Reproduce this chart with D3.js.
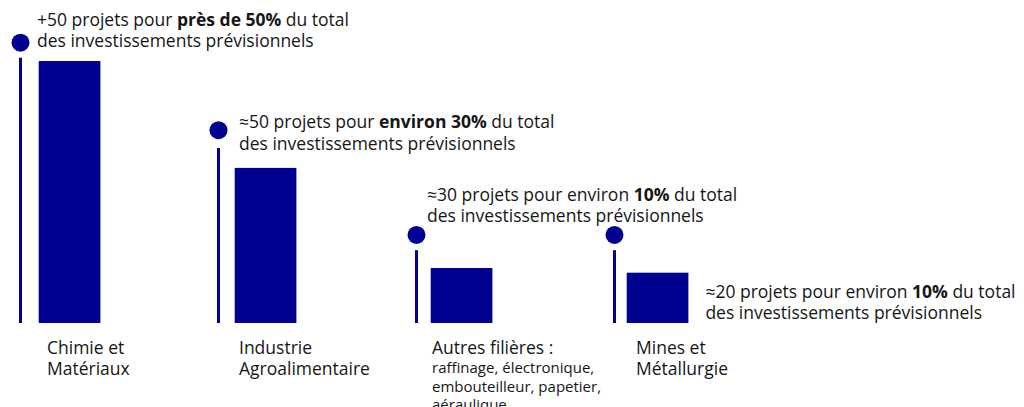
<!DOCTYPE html>
<html><head><meta charset="utf-8">
<script src="https://cdn.jsdelivr.net/npm/d3@7"></script>
<style>body{margin:0;background:#fff} svg{display:block}</style>
</head><body><svg id="c" width="1024" height="407"></svg>
<script>
// ---- data ----
const categories = ["Chimie et Matériaux", "Industrie Agroalimentaire", "Autres filières", "Mines et Métallurgie"];
const labelLines = [["Chimie et", "Matériaux"], ["Industrie", "Agroalimentaire"], ["Autres filières :"], ["Mines et", "Métallurgie"]];
const subLabelLines = [[], [], ["raffinage, électronique,", "embouteilleur, papetier,", "aéraulique"], []];
const shareValues = [50, 29.6, 10.5, 9.6];      // bar heights (share of total, %)
const pinValues = [50.6, 33.4, 13.9, 13.9];     // top of the pin line
const dotValues = [53.5, 36.8, 16.8, 16.8];     // pin head
const projectCounts = ["+50", "≈50", "≈30", "≈20"];
const shareQualifiers = ["près de", "environ", "environ", "environ"];
const sharePct = ["50%", "30%", "10%", "10%"];
const qualifierBold = [true, true, false, false];

// ---- layout ----
const W = 1024, H = 407;
const baseY = 323, topY = 61;
const blue = "#000091", ink = "#161616";
const font = "'Open Sans', 'Noto Sans', sans-serif";
const annFS = 17.5, labFS = 17.5, subFS = 15;
const annLayout = [
  {ref: "pin", dx: 16.5, dy: -17},
  {ref: "pin", dx: 20.5, dy: -2},
  {ref: "pin", dx: 10.5, dy: -34},
  {ref: "bar", dx: 17, dy: 25}
];
const labelDx = [26.5, 20.5, 15.5, 21.5];

const svg = d3.select("#c");
const xPin = d3.scalePoint().domain(categories).range([20.5, 614.5]);
const xBar = d3.scalePoint().domain(categories).range([38.7, 626.7]);
const y = d3.scaleLinear().domain([0, 50]).range([baseY, topY]);
const barW = 61.7;

const g = svg.append("g");
const idx = categories.map((c, i) => i);

// pins
g.selectAll("line.pin").data(idx).join("line").attr("class", "pin")
  .attr("x1", i => xPin(categories[i])).attr("x2", i => xPin(categories[i]))
  .attr("y1", i => y(pinValues[i])).attr("y2", y(0))
  .attr("stroke", blue).attr("stroke-width", 3);
g.selectAll("circle.dot").data(idx).join("circle").attr("class", "dot")
  .attr("cx", i => xPin(categories[i])).attr("cy", i => y(dotValues[i]))
  .attr("r", 9).attr("fill", blue);

// bars
g.selectAll("rect.bar").data(idx).join("rect").attr("class", "bar")
  .attr("x", i => xBar(categories[i]))
  .attr("y", i => y(shareValues[i]))
  .attr("width", barW)
  .attr("height", i => y(0) - y(shareValues[i]))
  .attr("fill", blue);

// annotations
idx.forEach(i => {
  const L = annLayout[i];
  let ax, ay;
  if (L.ref === "pin") { ax = xPin(categories[i]) + L.dx; ay = y(dotValues[i]) + L.dy; }
  else { ax = xBar(categories[i]) + barW + L.dx; ay = y(shareValues[i]) + L.dy; }
  const t = g.append("text").attr("x", ax).attr("y", ay)
    .attr("font-family", font).attr("font-size", annFS).attr("fill", ink);
  t.append("tspan").text(projectCounts[i] + " projets pour ");
  if (qualifierBold[i]) {
    t.append("tspan").attr("font-weight", 700).text(shareQualifiers[i] + " " + sharePct[i]);
  } else {
    t.append("tspan").text(shareQualifiers[i] + " ");
    t.append("tspan").attr("font-weight", 700).text(sharePct[i]);
  }
  t.append("tspan").text(" du total");
  g.append("text").attr("x", ax).attr("y", ay + 21.5)
    .attr("font-family", font).attr("font-size", annFS).attr("fill", ink)
    .text("des investissements prévisionnels");
});

// category labels
idx.forEach(i => {
  const lx = xPin(categories[i]) + labelDx[i];
  const t = g.append("text").attr("font-family", font).attr("fill", ink);
  labelLines[i].forEach((s, k) => {
    t.append("tspan").attr("x", lx).attr("y", 354 + k * 21).attr("font-size", labFS).text(s);
  });
  subLabelLines[i].forEach((s, k) => {
    t.append("tspan").attr("x", lx).attr("y", 373 + k * 18.5).attr("font-size", subFS).text(s);
  });
});
</script></body></html>
